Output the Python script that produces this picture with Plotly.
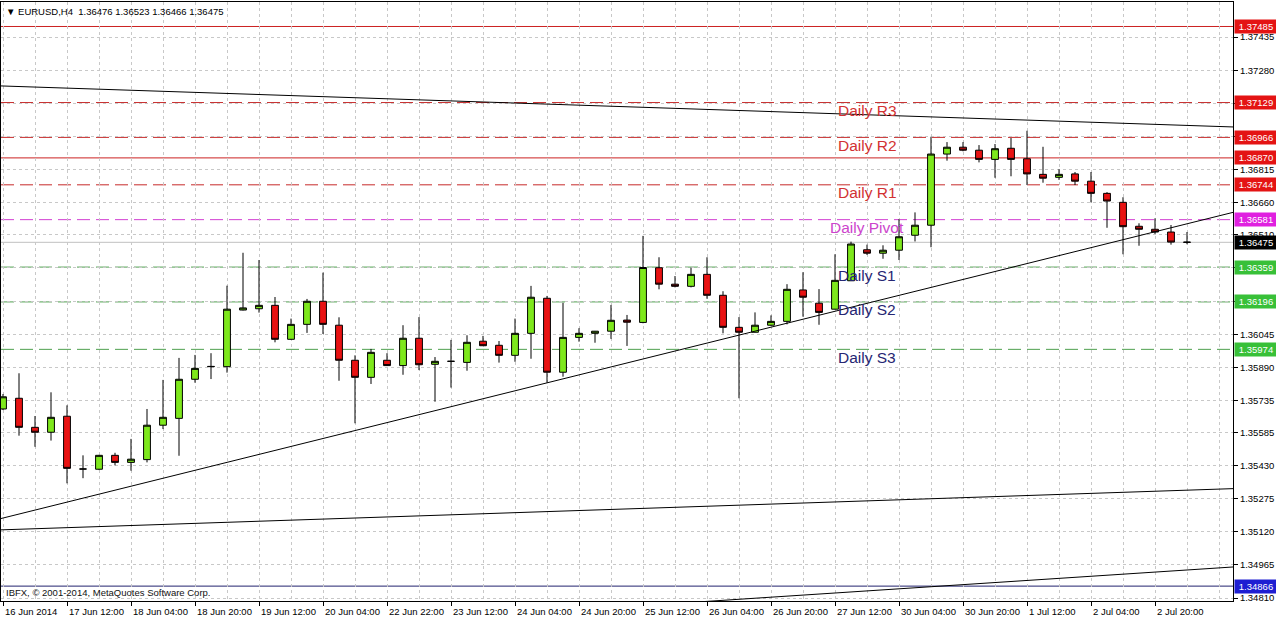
import plotly.graph_objects as go

# ---------------- data ----------------
bar_index = list(range(75))

opens = [1.35695, 1.35745, 1.35609, 1.35586, 1.35661, 1.35414, 1.35413, 1.35478, 1.35445, 1.35458,
         1.35619, 1.35651, 1.35834, 1.35893, 1.35893, 1.36158, 1.36164, 1.36180, 1.36021, 1.36091,
         1.36199, 1.36087, 1.35923, 1.35843, 1.35923, 1.35898, 1.36026, 1.35904, 1.35918, 1.35913,
         1.36012, 1.35993, 1.35946, 1.36049, 1.36213, 1.35867, 1.36030, 1.36049, 1.36059, 1.36111,
         1.36100, 1.36356, 1.36279, 1.36269, 1.36325, 1.36227, 1.36077, 1.36054, 1.36087, 1.36105,
         1.36252, 1.36190, 1.36162, 1.36295, 1.36440, 1.36424, 1.36438, 1.36508, 1.36555, 1.36888,
         1.36920, 1.36906, 1.36863, 1.36915, 1.36866, 1.36793, 1.36779, 1.36795, 1.36761, 1.36704,
         1.36662, 1.36550, 1.36536, 1.36523, 1.36476]
highs = [1.35765, 1.35862, 1.35662, 1.35773, 1.35712, 1.35478, 1.35480, 1.35490, 1.35555, 1.35695,
         1.35831, 1.35934, 1.35948, 1.35956, 1.36272, 1.36426, 1.36392, 1.36219, 1.36118, 1.36210,
         1.36333, 1.36124, 1.35946, 1.35976, 1.35956, 1.36087, 1.36125, 1.35938, 1.36018, 1.36040,
         1.36037, 1.36013, 1.36118, 1.36271, 1.36224, 1.36192, 1.36073, 1.36060, 1.36182, 1.36135,
         1.36505, 1.36405, 1.36317, 1.36356, 1.36405, 1.36246, 1.36125, 1.36147, 1.36133, 1.36279,
         1.36335, 1.36256, 1.36419, 1.36478, 1.36464, 1.36461, 1.36583, 1.36615, 1.36969, 1.36944,
         1.36944, 1.36930, 1.36935, 1.36963, 1.36997, 1.36922, 1.36817, 1.36804, 1.36804, 1.36710,
         1.36686, 1.36564, 1.36587, 1.36556, 1.36523]
lows = [1.35690, 1.35570, 1.35518, 1.35547, 1.35347, 1.35371, 1.35409, 1.35431, 1.35406, 1.35445,
        1.35601, 1.35476, 1.35818, 1.35835, 1.35865, 1.36156, 1.36146, 1.36007, 1.36018, 1.36051,
        1.36046, 1.35827, 1.35628, 1.35812, 1.35896, 1.35855, 1.35877, 1.35729, 1.35795, 1.35874,
        1.35990, 1.35912, 1.35916, 1.35930, 1.35818, 1.35846, 1.36010, 1.36005, 1.36023, 1.35990,
        1.36096, 1.36255, 1.36264, 1.36264, 1.36211, 1.36049, 1.35745, 1.36053, 1.36084, 1.36091,
        1.36127, 1.36089, 1.36161, 1.36295, 1.36416, 1.36398, 1.36392, 1.36479, 1.36452, 1.36857,
        1.36901, 1.36849, 1.36777, 1.36784, 1.36743, 1.36754, 1.36767, 1.36743, 1.36662, 1.36543,
        1.36419, 1.36459, 1.36514, 1.36464, 1.36466]
closes = [1.35752, 1.35609, 1.35586, 1.35656, 1.35417, 1.35414, 1.35478, 1.35445, 1.35460, 1.35619,
          1.35656, 1.35834, 1.35885, 1.35894, 1.36162, 1.36168, 1.36180, 1.36021, 1.36091, 1.36199,
          1.36091, 1.35923, 1.35843, 1.35960, 1.35898, 1.36026, 1.35902, 1.35918, 1.35918, 1.36007,
          1.35991, 1.35946, 1.36049, 1.36218, 1.35867, 1.36030, 1.36049, 1.36059, 1.36110, 1.36101,
          1.36357, 1.36279, 1.36269, 1.36325, 1.36227, 1.36077, 1.36054, 1.36087, 1.36105, 1.36255,
          1.36218, 1.36147, 1.36297, 1.36467, 1.36424, 1.36438, 1.36501, 1.36555, 1.36888, 1.36920,
          1.36906, 1.36863, 1.36913, 1.36863, 1.36795, 1.36775, 1.36793, 1.36761, 1.36704, 1.36668,
          1.36548, 1.36536, 1.36523, 1.36476, 1.36475]

time_tick_bars = [0, 4, 8, 12, 16, 20, 24, 28, 32, 36, 40, 44, 48, 52, 56, 60, 64, 68, 72]
time_tick_labels = ["16 Jun 2014", "17 Jun 12:00", "18 Jun 04:00", "18 Jun 20:00", "19 Jun 12:00",
                    "20 Jun 04:00", "22 Jun 22:00", "23 Jun 12:00", "24 Jun 04:00", "24 Jun 20:00",
                    "25 Jun 12:00", "26 Jun 04:00", "26 Jun 20:00", "27 Jun 12:00", "30 Jun 04:00",
                    "30 Jun 20:00", "1 Jul 12:00", "2 Jul 04:00", "2 Jul 20:00"]

price_ticks = [1.37435, 1.37280, 1.37125, 1.36970, 1.36815, 1.36660, 1.36510, 1.36355, 1.36200,
               1.36045, 1.35890, 1.35735, 1.35585, 1.35430, 1.35275, 1.35120, 1.34965, 1.34810]
price_tick_labels = ["1.37435", "1.37280", "", "", "1.36815", "1.36660", "1.36510", "", "",
                     "1.36045", "1.35890", "1.35735", "1.35585", "1.35430", "1.35275", "1.35120",
                     "1.34965", "1.34810"]

level_prices = [1.37485, 1.37129, 1.36966, 1.36870, 1.36744, 1.36581, 1.36475, 1.36359, 1.36196,
                1.35974, 1.34866]
level_names = ["", "Daily R3", "Daily R2", "", "Daily R1", "Daily Pivot", "", "Daily S1",
               "Daily S2", "Daily S3", ""]
level_label_bar = 54

trend_x = [[-1, 78], [-1, 78], [-1, 78], [40, 78]]
trend_y = [[1.37209, 1.37012], [1.35166, 1.36636], [1.35127, 1.35325], [1.34775, 1.34961]]

header_text = "\u25bc EURUSD,H4  1.36476 1.36523 1.36466 1.36475"
copyright_text = "IBFX, \u00a9 2001-2014, MetaQuotes Software Corp."

# ---------------- styles ----------------
level_line_colors = ["#cc2222", "#c62a2a", "#c62a2a", "#cc2222", "#c62a2a", "#d23fd2", "#c0c0c0",
                     "#4fa04f", "#4fa04f", "#4fa04f", "#22226e"]
level_dashes = ["solid", "13px,6px", "13px,6px", "solid", "13px,6px", "13px,6px", "solid",
                "13px,6px", "13px,6px", "13px,6px", "solid"]
level_box_colors = ["#e41414", "#e41414", "#e41414", "#e41414", "#e41414", "#e020e0", "#000000",
                    "#38c038", "#38c038", "#38c038", "#1e1ed2"]
level_text_colors = ["", "#d23232", "#d23232", "", "#d23232", "#cc44cc", "", "#262673",
                     "#262673", "#262673", ""]

FONT = "Liberation Sans, Arial, sans-serif"
W, H = 1276, 619
ML, MR, MT, MB = 1, 43, 2, 18
BAR_PX = 16
plot_w = W - ML - MR
x_range = [-2 / BAR_PX, -2 / BAR_PX + plot_w / BAR_PX]
y_range = [1.347963, 1.375996]

fig = go.Figure()

fig.add_trace(go.Candlestick(
    x=bar_index, open=opens, high=highs, low=lows, close=closes,
    increasing=dict(line=dict(color="black", width=1), fillcolor="#7ee81c"),
    decreasing=dict(line=dict(color="black", width=1), fillcolor="#e81212"),
    whiskerwidth=0, showlegend=False, hoverinfo="skip",
))

for xs, ys in zip(trend_x, trend_y):
    fig.add_trace(go.Scatter(x=xs, y=ys, mode="lines", line=dict(color="black", width=1),
                             showlegend=False, hoverinfo="skip"))

shapes = []
annotations = []
for price, name, lc, dash, bc, tc in zip(level_prices, level_names, level_line_colors,
                                         level_dashes, level_box_colors, level_text_colors):
    shapes.append(dict(type="line", xref="paper", x0=0, x1=1, yref="y", y0=price, y1=price,
                       line=dict(color=lc, width=1, dash=dash), layer="between"))
    annotations.append(dict(xref="paper", x=1, xanchor="left", xshift=1, yref="y", y=price,
                            yanchor="middle", text=f"{price:.5f}", showarrow=False,
                            bgcolor=bc, width=40, height=11, borderpad=1,
                            font=dict(family=FONT, size=9.5, color="white")))
    if name:
        annotations.append(dict(xref="x", x=level_label_bar, xanchor="center", yref="y", y=price,
                                yanchor="middle", yshift=-8, text=name, showarrow=False,
                                font=dict(family=FONT, size=15.5, color=tc)))

for b, lab in zip(time_tick_bars, time_tick_labels):
    annotations.append(dict(xref="x", x=b, xanchor="left", xshift=0, yref="paper", y=0,
                            yanchor="top", yshift=-3, text=lab, showarrow=False,
                            font=dict(family=FONT, size=9.5, color="black")))

annotations.append(dict(xref="paper", x=0, xanchor="left", xshift=3, yref="paper", y=1,
                        yanchor="top", yshift=-2, text=header_text, showarrow=False,
                        font=dict(family=FONT, size=9.5, color="black")))
annotations.append(dict(xref="paper", x=0, xanchor="left", xshift=3, yref="paper", y=0,
                        yanchor="bottom", yshift=1, text=copyright_text, showarrow=False,
                        font=dict(family=FONT, size=9.5, color="#111111")))

grid = dict(showgrid=True, gridcolor="#c8c8c8", gridwidth=1, griddash="3px,3px")

fig.update_layout(
    width=W, height=H, margin=dict(l=ML, r=MR, t=MT, b=MB, pad=0),
    paper_bgcolor="white", plot_bgcolor="white", template="none",
    boxgap=0.39, showlegend=False,
    shapes=shapes, annotations=annotations,
    xaxis=dict(range=x_range, tickmode="array", tickvals=time_tick_bars, showticklabels=False,
               ticks="outside", ticklen=4, tickcolor="black", tickwidth=1,
               showline=True, mirror=True, linecolor="black", linewidth=1,
               zeroline=False, automargin=False, rangeslider=dict(visible=False),
               minor=dict(tickmode="linear", tick0=0, dtick=2, ticks="", **grid),
               **grid),
    yaxis=dict(range=y_range, side="right", tickmode="array", tickvals=price_ticks,
               ticktext=price_tick_labels, ticks="outside", ticklen=4, tickcolor="black",
               tickwidth=1, tickfont=dict(family=FONT, size=9.5, color="black"),
               showline=True, mirror=True, linecolor="black", linewidth=1,
               zeroline=False, automargin=False, **grid),
    font=dict(family=FONT),
)

fig.write_html("out.html", config={"displayModeBar": False},
               post_script="document.body.style.margin='0';document.body.style.overflow='hidden';")
